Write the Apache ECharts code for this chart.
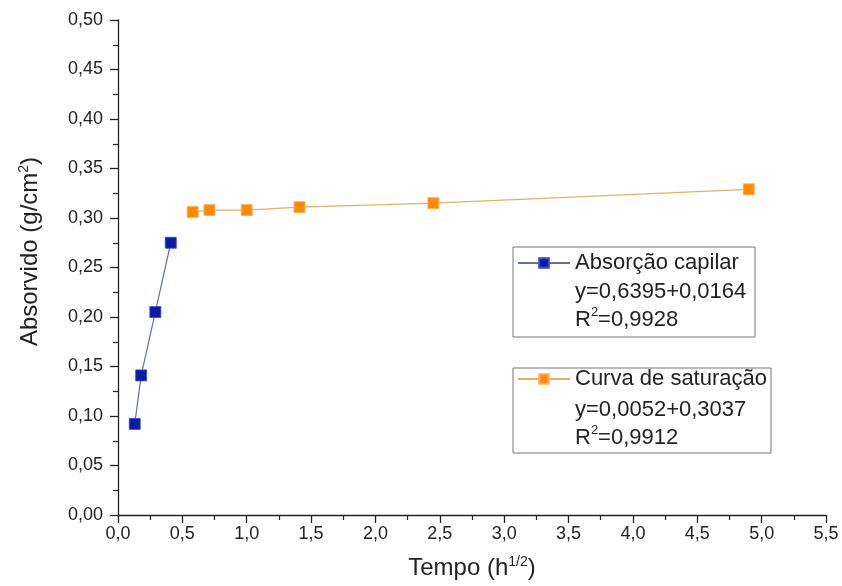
<html><head>
<meta charset="UTF-8">
<title>Absorção capilar</title>
<style>
  body { margin: 0; padding: 0; background: #fff; }
  #chart { width: 842px; height: 586px; }
</style>
</head>
<body>
<div id="chart"></div>
<script src="https://cdn.jsdelivr.net/npm/echarts@6/dist/echarts.min.js"></script>
<script>
  // dados
  const capilarX = [0.13, 0.18, 0.29, 0.41];
  const capilarY = [0.092, 0.141, 0.205, 0.275];
  const saturacaoX = [0.58, 0.71, 1.0, 1.41, 2.45, 4.90];
  const saturacaoY = [0.306, 0.308, 0.308, 0.311, 0.315, 0.329];
  const eqCapilar = ['y=0,6395+0,0164', 'R{sup|2}=0,9928'];
  const eqSaturacao = ['y=0,0052+0,3037', 'R{sup|2}=0,9912'];

  const FONT = '"Liberation Sans", Arial, sans-serif';
  const zip = (xs, ys) => xs.map((x, i) => [x, ys[i]]);

  const chart = echarts.init(document.getElementById('chart'));

  const supStyle = { fontSize: 14, verticalAlign: 'top', padding: [0, 0, 12, 0], fontFamily: FONT, color: '#222' };
  const eqSup = { fontSize: 13, verticalAlign: 'top', lineHeight: 28, padding: [0, 0, 10, 0], fontFamily: FONT, fill: '#222' };

  const axisCommon = {
    axisLine: { show: true, onZero: false, lineStyle: { color: '#222', width: 1.3 } },
    axisTick: { show: true, inside: false, length: 8, lineStyle: { color: '#222', width: 1.3 } },
    minorTick: { show: true, splitNumber: 2, length: 5, lineStyle: { color: '#222', width: 1.2 } },
    splitLine: { show: false }
  };

  const option = {
    animation: false,
    grid: { left: 118, right: 16, top: 20, bottom: 71 },
    xAxis: Object.assign({}, axisCommon, {
      type: 'value', min: 0, max: 5.5, interval: 0.5,
      name: 'Tempo (h{sup|1/2})', nameLocation: 'middle', nameGap: 40,
      nameTextStyle: { fontFamily: FONT, fontSize: 24, color: '#222', rich: { sup: supStyle } },
      axisLabel: { fontFamily: FONT, fontSize: 18, color: '#222', margin: 10,
        formatter: v => v.toFixed(1).replace('.', ',') }
    }),
    yAxis: Object.assign({}, axisCommon, {
      type: 'value', min: 0, max: 0.5, interval: 0.05,
      name: 'Absorvido (g/cm{sup|2})', nameLocation: 'middle', nameGap: 75,
      nameTextStyle: { fontFamily: FONT, fontSize: 24, color: '#222', padding: [0, 0, 0, 32], rich: { sup: supStyle } },
      axisLabel: { fontFamily: FONT, fontSize: 18, color: '#222', margin: 15,
        formatter: v => v.toFixed(2).replace('.', ',') }
    }),
    legend: [
      {
        data: ['Absorção capilar'], left: 517, top: 252, orient: 'vertical',
        itemWidth: 52, itemHeight: 12, itemGap: 0, padding: 0,
        textStyle: { fontFamily: FONT, fontSize: 22, color: '#222' }
      },
      {
        data: ['Curva de saturação'], left: 517, top: 368, orient: 'vertical',
        itemWidth: 52, itemHeight: 12, itemGap: 0, padding: 0,
        textStyle: { fontFamily: FONT, fontSize: 22, color: '#222' }
      }
    ],
    graphic: [
      { type: 'rect', shape: { x: 513, y: 247, width: 242, height: 90 },
        style: { fill: 'none', stroke: '#777', lineWidth: 1 } },
      { type: 'rect', shape: { x: 513, y: 368, width: 258, height: 85 },
        style: { fill: 'none', stroke: '#777', lineWidth: 1 } },
      { type: 'text', left: 575, top: 278,
        style: { text: eqCapilar.join('\n'), fontFamily: FONT, fontSize: 22, fill: '#222', lineHeight: 28,
          rich: { sup: eqSup } } },
      { type: 'text', left: 575, top: 396,
        style: { text: eqSaturacao.join('\n'), fontFamily: FONT, fontSize: 22, fill: '#222', lineHeight: 28,
          rich: { sup: eqSup } } }
    ],
    series: [
      {
        name: 'Absorção capilar', type: 'line', data: zip(capilarX, capilarY),
        symbol: 'rect', symbolSize: 11,
        lineStyle: { color: '#6670a0', width: 1.2 },
        itemStyle: { color: '#0c1ca0', borderColor: '#3c4cc0', borderWidth: 0.8 }
      },
      {
        name: 'Curva de saturação', type: 'line', data: zip(saturacaoX, saturacaoY),
        symbol: 'rect', symbolSize: 11,
        lineStyle: { color: '#d9b36a', width: 1.2 },
        itemStyle: { color: '#ff8a0a', borderColor: '#ffb050', borderWidth: 0.8 }
      }
    ]
  };

  chart.setOption(option);
</script>
</body>
</html>
